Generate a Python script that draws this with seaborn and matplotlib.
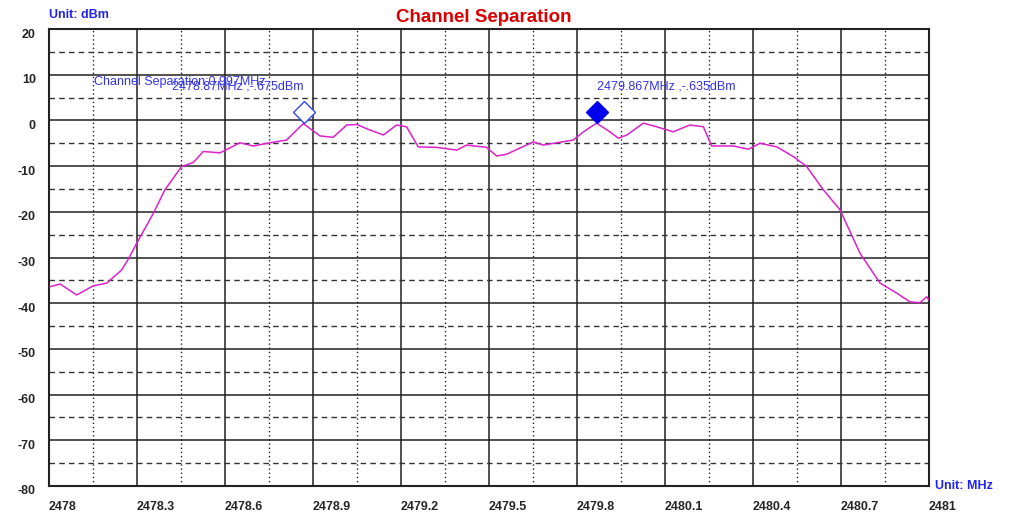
import numpy as np
import pandas as pd
import seaborn as sns
import matplotlib
matplotlib.use("Agg")
import matplotlib.pyplot as plt
import matplotlib.transforms as mtransforms

# ---- data ----
freq_mhz = [2478.003, 2478.038, 2478.094, 2478.151, 2478.197, 2478.248, 2478.269,
            2478.299, 2478.356, 2478.395, 2478.452, 2478.492, 2478.526, 2478.583,
            2478.651, 2478.696, 2478.753, 2478.810, 2478.867, 2478.924, 2478.969,
            2479.015, 2479.049, 2479.094, 2479.140, 2479.185, 2479.219, 2479.259,
            2479.322, 2479.390, 2479.424, 2479.492, 2479.526, 2479.560, 2479.651,
            2479.685, 2479.787, 2479.822, 2479.867, 2479.912, 2479.941, 2479.970,
            2480.026, 2480.072, 2480.128, 2480.185, 2480.231, 2480.259, 2480.333,
            2480.384, 2480.424, 2480.481, 2480.537, 2480.583, 2480.640, 2480.697,
            2480.765, 2480.833, 2480.890, 2480.935, 2480.969, 2480.992, 2481.000]
level_dbm = [-36.4, -35.8, -38.2, -36.2, -35.6, -32.7, -30.5,
             -26.9, -20.3, -15.2, -10.1, -9.2, -6.8, -7.1,
             -4.9, -5.6, -4.9, -4.3, -0.7, -3.4, -3.7,
             -1.0, -0.9, -2.1, -3.2, -1.0, -1.4, -5.8,
             -5.9, -6.5, -5.4, -5.9, -7.8, -7.4, -4.7,
             -5.4, -4.3, -2.5, -0.6, -2.5, -3.9, -3.2,
             -0.6, -1.4, -2.5, -1.0, -1.4, -5.6, -5.6,
             -6.3, -5.0, -5.8, -7.9, -10.1, -15.2, -19.6,
             -29.1, -35.6, -37.8, -39.7, -39.9, -38.6, -39.3]

marker_freq = [2478.87, 2479.867]
marker_level = [-0.675, -0.635]
marker_text = ["2478.87MHz ,-.675dBm", "2479.867MHz ,-.635dBm"]
separation_text = "Channel Separation:0.997MHz"

x_ticks = [2478, 2478.3, 2478.6, 2478.9, 2479.2, 2479.5, 2479.8, 2480.1, 2480.4, 2480.7, 2481]
x_tick_labels = ["2478", "2478.3", "2478.6", "2478.9", "2479.2", "2479.5", "2479.8",
                 "2480.1", "2480.4", "2480.7", "2481"]
y_ticks = [20, 10, 0, -10, -20, -30, -40, -50, -60, -70, -80]

sns.set_style("white")
plt.rcParams['font.family'] = ['Liberation Sans', 'DejaVu Sans']

fig = plt.figure(figsize=(10.14, 5.19), dpi=100)
ax = fig.add_axes([49 / 1014, 1 - 486 / 519, 880 / 1014, 457 / 519])

df = pd.DataFrame({'freq': freq_mhz, 'level': level_dbm})
sns.lineplot(data=df, x='freq', y='level', ax=ax, color='#DD22CC', linewidth=1.1, zorder=5)

ax.set_xlim(2478, 2481)
ax.set_ylim(-80, 20)

# grid: solid majors, dashed horizontal / dotted vertical minors
for xv in np.arange(2478.3, 2481, 0.3):
    ax.axvline(xv, color='#222222', lw=1.1, zorder=1)
for xv in np.arange(2478.15, 2481, 0.3):
    ax.axvline(xv, color='#222222', lw=1.0, ls=(0, (1, 2)), zorder=1)
for yv in range(-70, 20, 10):
    ax.axhline(yv, color='#222222', lw=1.1, zorder=1)
for yv in range(-75, 20, 10):
    ax.axhline(yv, color='#333333', lw=1.0, ls=(0, (4, 3)), zorder=1)

for sp in ax.spines.values():
    sp.set_visible(True)
    sp.set_color('#222222')
    sp.set_linewidth(1.5)

ax.set_xticks(x_ticks)
ax.set_xticklabels(x_tick_labels, fontsize=9, fontweight='bold', ha='left')
ax.set_yticks(y_ticks)
ax.set_yticklabels([str(v) for v in y_ticks], fontsize=9, fontweight='bold')
ax.tick_params(axis='x', length=0, pad=11)
ax.tick_params(axis='y', length=0, pad=9.5)
for lab in ax.get_yticklabels():
    lab.set_transform(lab.get_transform() + mtransforms.ScaledTranslation(0, -4 / 100, fig.dpi_scale_trans))
ax.set_xlabel('')
ax.set_ylabel('')

# markers: drawn with their lower tip on the peak
up = mtransforms.offset_copy(ax.transData, fig=fig, x=0, y=11, units='dots')
ax.plot(marker_freq[0], marker_level[0], marker='D', ms=11, mfc='white', mec='#3344FF',
        mew=1.0, transform=up, zorder=6)
ax.plot(marker_freq[1], marker_level[1], marker='D', ms=11, mfc='#0000EE', mec='#0000EE',
        transform=up, zorder=6)

ax.text(2478.153, 8.3, separation_text, color='#3333EE', fontsize=9, va='center', ha='left', zorder=7)
ax.text(2478.42, 7.4, marker_text[0], color='#3333EE', fontsize=9, va='center', ha='left', zorder=7)
ax.text(2479.867, 7.5, marker_text[1], color='#3333EE', fontsize=9, va='center', ha='left', zorder=7)

fig.text(484 / 1014, 1 - 17 / 519, "Channel Separation", color='#DD0000', fontsize=13.5,
         fontweight='bold', ha='center', va='center')
fig.text(49 / 1014, 1 - 15 / 519, "Unit: dBm", color='#2222EE', fontsize=9,
         fontweight='bold', ha='left', va='center')
fig.text(935 / 1014, 1 - 486 / 519, "Unit: MHz", color='#2222EE', fontsize=9,
         fontweight='bold', ha='left', va='center')

fig.savefig("out.png", dpi=100, facecolor='white')
